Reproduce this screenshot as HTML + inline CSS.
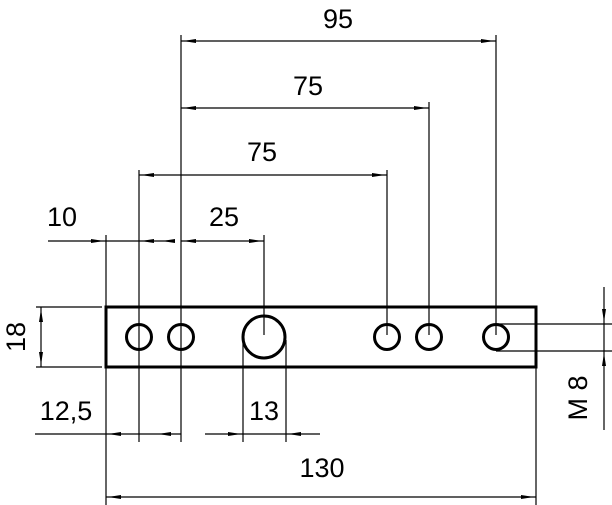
<!DOCTYPE html>
<html><head><style>html,body{margin:0;padding:0;background:#fff}svg{display:block}</style></head>
<body>
<svg width="612" height="505" viewBox="0 0 612 505" xmlns="http://www.w3.org/2000/svg" font-family="Liberation Sans, sans-serif" font-size="27">
<g stroke="#000" stroke-width="1.2" fill="none">
<line x1="106" y1="235" x2="106" y2="505"/>
<line x1="139" y1="170" x2="139" y2="442"/>
<line x1="181" y1="35" x2="181" y2="442"/>
<line x1="264" y1="235" x2="264" y2="335"/>
<line x1="387" y1="170" x2="387" y2="335"/>
<line x1="429" y1="102" x2="429" y2="335"/>
<line x1="496" y1="35" x2="496" y2="335"/>
<line x1="536" y1="367" x2="536" y2="505"/>
<line x1="243" y1="340" x2="243" y2="442"/>
<line x1="286" y1="340" x2="286" y2="442"/>
<line x1="181" y1="41" x2="496" y2="41"/>
<line x1="181" y1="108" x2="429" y2="108"/>
<line x1="139" y1="175" x2="387" y2="175"/>
<line x1="48" y1="241" x2="175" y2="241"/>
<line x1="181" y1="241" x2="264" y2="241"/>
<line x1="35" y1="434" x2="181" y2="434"/>
<line x1="205" y1="434" x2="320" y2="434"/>
<line x1="106" y1="497" x2="536" y2="497"/>
<line x1="36" y1="307" x2="102" y2="307"/>
<line x1="36" y1="367" x2="102" y2="367"/>
<line x1="41" y1="307" x2="41" y2="367"/>
<line x1="604" y1="287" x2="604" y2="430"/>
<line x1="496" y1="324" x2="612" y2="324"/>
<line x1="496" y1="351" x2="612" y2="351"/>
</g>
<rect x="106" y="307" width="430" height="60" fill="none" stroke="#000" stroke-width="3"/>
<g fill="none" stroke="#000" stroke-width="3">
<circle cx="139" cy="337" r="12.5"/>
<circle cx="181" cy="337" r="12.5"/>
<circle cx="264" cy="337" r="21"/>
<circle cx="387" cy="337" r="12.5"/>
<circle cx="429" cy="337" r="12.5"/>
<circle cx="496" cy="337" r="12.5"/>
</g>
<g fill="#000">
<polygon points="183,41 196,39 196,43"/><polygon points="494,41 481,39 481,43"/>
<polygon points="183,108 196,106 196,110"/><polygon points="427,108 414,106 414,110"/>
<polygon points="141,175 154,173 154,177"/><polygon points="385,175 372,173 372,177"/>
<polygon points="104,241 91,239 91,243"/><polygon points="141,241 154,239 154,243"/><polygon points="162,241 175,239 175,243"/>
<polygon points="183,241 196,239 196,243"/><polygon points="262,241 249,239 249,243"/>
<polygon points="108,434 121,432 121,436"/><polygon points="158,434 171,432 171,436"/>
<polygon points="241,434 228,432 228,436"/><polygon points="288,434 301,432 301,436"/>
<polygon points="108,497 121,495 121,499"/><polygon points="534,497 521,495 521,499"/>
<polygon points="41,309 39,322 43,322"/><polygon points="41,365 39,352 43,352"/>
<polygon points="604,322 602,309 606,309"/><polygon points="604,353 602,366 606,366"/>
</g>
<g fill="#000">
<text x="338" y="28" text-anchor="middle">95</text>
<text x="308" y="95" text-anchor="middle">75</text>
<text x="262" y="161" text-anchor="middle">75</text>
<text x="62" y="226" text-anchor="middle">10</text>
<text x="224" y="226" text-anchor="middle">25</text>
<text x="66" y="420" text-anchor="middle">12,5</text>
<text x="264" y="420" text-anchor="middle">13</text>
<text x="322" y="477" text-anchor="middle">130</text>
<text transform="translate(25,337) rotate(-90)" text-anchor="middle">18</text>
<text transform="translate(587,398) rotate(-90)" text-anchor="middle">M 8</text>
</g>
</svg>
</body></html>
